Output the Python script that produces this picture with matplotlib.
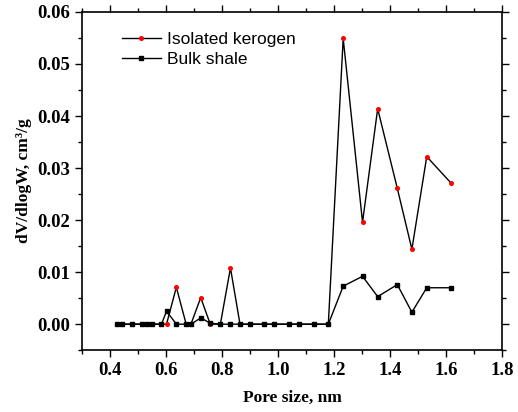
import numpy as np
import matplotlib.pyplot as plt
from matplotlib.ticker import MultipleLocator

# pore widths, nm
pore = [0.425, 0.444, 0.479, 0.514, 0.532, 0.549, 0.584, 0.602, 0.637, 0.672,
        0.689, 0.724, 0.758, 0.794, 0.830, 0.864, 0.900, 0.951, 0.987, 1.039,
        1.075, 1.127, 1.179, 1.232, 1.301, 1.355, 1.425, 1.477, 1.530, 1.617]

kerogen = [0, 0, 0, 0, 0, 0, 0, 0, 0.0071, 0,
           0, 0.0051, 0, 0, 0.0108, 0, 0, 0, 0, 0,
           0, 0, 0, 0.0549, 0.0196, 0.0414, 0.0261, 0.0144, 0.0322, 0.0271]

bulk = [0, 0, 0, 0, 0, 0, 0, 0.0025, 0, 0,
        0, 0.0012, 0.0002, 0, 0, 0, 0, 0, 0, 0,
        0, 0, 0, 0.0073, 0.0092, 0.0053, 0.0076, 0.0023, 0.0070, 0.0070]

fig = plt.figure(figsize=(5.18, 4.12), dpi=100)
ax = fig.add_axes([0.158, 0.150, 0.812, 0.821])

ax.plot(pore, kerogen, color='black', lw=1.0, marker='o', ms=2.6,
        mfc='red', mec='red', label='Isolated kerogen')
ax.plot(pore, bulk, color='black', lw=1.0, marker='s', ms=2.2,
        mfc='black', mec='black', label='Bulk shale')

ax.set_xlim(0.3, 1.8)
ax.set_ylim(-0.005, 0.06)
ax.xaxis.set_major_locator(MultipleLocator(0.2))
ax.xaxis.set_minor_locator(MultipleLocator(0.1))
ax.yaxis.set_major_locator(MultipleLocator(0.01))
ax.yaxis.set_minor_locator(MultipleLocator(0.005))
ax.tick_params(which='both', direction='out', top=True, right=True,
               labeltop=False, labelright=False, width=1)
ax.tick_params(which='major', length=5)
ax.tick_params(which='minor', length=3)
for s in ax.spines.values():
    s.set_linewidth(1.2)

ax.set_xticks(np.arange(0.4, 1.81, 0.2))
ax.set_xticklabels([f'{v:.1f}' for v in np.arange(0.4, 1.81, 0.2)])
ax.set_yticks(np.arange(0, 0.061, 0.01))
ax.set_yticklabels([f'{v:.2f}' for v in np.arange(0, 0.061, 0.01)])
for lab in ax.get_xticklabels() + ax.get_yticklabels():
    lab.set_fontfamily('Liberation Serif')
    lab.set_fontweight('bold')
    lab.set_fontsize(13.5)

ax.set_xlabel('Pore size, nm', family='Liberation Serif', weight='bold',
              fontsize=12.5, labelpad=8)
ax.set_ylabel('dV/dlogW, cm\u00b3/g', family='Liberation Serif', weight='bold',
              fontsize=12.5, labelpad=4)

leg = ax.legend(loc='upper left', bbox_to_anchor=(0.095, 0.94), frameon=False,
                prop={'family': 'Liberation Sans', 'size': 12.5},
                handlelength=2.25, handletextpad=0.35, labelspacing=0.25,
                borderaxespad=0, borderpad=0, numpoints=1)

fig.savefig('out.png', dpi=100)
